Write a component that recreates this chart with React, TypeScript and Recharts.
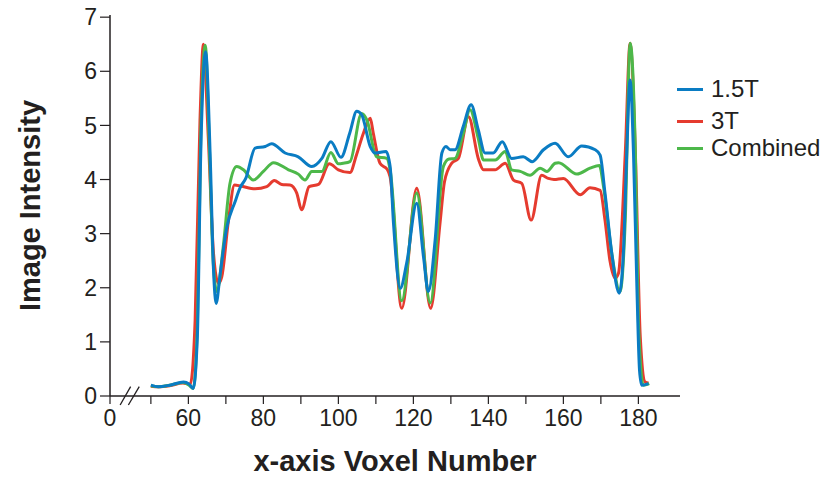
import React from "react";
import { LineChart, Line, XAxis, YAxis, ReferenceLine, Label } from "recharts";

// [voxel, intensity]
const data15T: [number, number][] = [
  [50, 0.2], [52, 0.17], [55, 0.2], [58.7, 0.26], [60.2, 0.22], [61.3, 0.14], [62.4, 1.1],
  [63.3, 4.48], [64.6, 6.36], [65.8, 4.48], [66.7, 2.33], [67.4, 1.71], [68.5, 2.27],
  [70.2, 3.1], [72.5, 3.6], [73.8, 3.85], [75.3, 4.02], [77.8, 4.58], [80.5, 4.61],
  [82.2, 4.66], [85.8, 4.49], [89.3, 4.42], [92.9, 4.24], [95.6, 4.39], [98, 4.7],
  [100.7, 4.41], [103, 4.85], [104.9, 5.26], [106.2, 5.2], [108.5, 4.61], [109.8, 4.49],
  [112.7, 4.52], [113.8, 4.24], [114.7, 3.19], [116.5, 1.99], [118.2, 2.45], [120.9, 3.56],
  [122.7, 2.57], [124, 1.93], [125.8, 2.88], [127.6, 4.49], [128.7, 4.61], [129.8, 4.55],
  [131.1, 4.55], [133.3, 4.98], [135.4, 5.38], [137.3, 4.92], [139.1, 4.49], [141.3, 4.49],
  [143.7, 4.7], [146.2, 4.39], [149.3, 4.42], [151.7, 4.33], [154.7, 4.55], [157.8, 4.67],
  [161.3, 4.42], [164.9, 4.62], [168.5, 4.55], [169.8, 4.45], [171.1, 3.75], [172.9, 2.64],
  [174.9, 1.9], [176, 2.64], [176.9, 4.48], [177.8, 5.84], [178.7, 4.48], [179.6, 2.02],
  [180.3, 0.48], [180.9, 0.2], [182.7, 0.23],
];

const data3T: [number, number][] = [
  [50, 0.18], [52, 0.17], [55, 0.19], [58.5, 0.24], [60.5, 0.22], [61.8, 1.4], [63.1, 5.1],
  [64, 6.5], [65.3, 4.79], [66.7, 2.64], [68, 2.08], [68.9, 2.2], [70.7, 3.25], [72.3, 3.9],
  [74, 3.88], [77.8, 3.83], [80.9, 3.87], [82.9, 3.98], [84.9, 3.91], [87.1, 3.9],
  [88.9, 3.75], [90.2, 3.44], [92.2, 3.87], [94.7, 3.91], [97.6, 4.29], [100, 4.18],
  [103.1, 4.13], [104.8, 4.45], [106.7, 4.86], [108.5, 5.13], [109.3, 4.86], [111.1, 4.3],
  [113.1, 4.18], [113.8, 4.05], [116.9, 1.62], [120.9, 3.84], [124.6, 1.62], [127.1, 3.19],
  [128.3, 3.96], [130.2, 4.3], [132, 4.39], [134.7, 5.16], [137.3, 4.39], [138.7, 4.18],
  [141.8, 4.18], [144.5, 4.3], [146.7, 3.99], [148.9, 3.93], [151.4, 3.25], [154.2, 4.08],
  [156, 4.02], [157.5, 4.0], [160, 4.02], [164.5, 3.72], [167.1, 3.85], [169.8, 3.8],
  [171.1, 3.25], [172.4, 2.51], [173.8, 2.18], [174.7, 2.27], [176.5, 4.48], [177.8, 6.52],
  [179.2, 4.49], [180.5, 1.1], [181.8, 0.26], [182.7, 0.24],
];

const dataCombined: [number, number][] = [
  [50, 0.19], [52, 0.17], [55, 0.2], [58.7, 0.25], [60.2, 0.2], [61.3, 0.14], [62.4, 1.3],
  [63.3, 4.8], [64.5, 6.48], [65.6, 4.6], [66.6, 2.5], [67.6, 1.93], [69.3, 2.76],
  [71.1, 3.93], [72.9, 4.24], [74.7, 4.18], [77.3, 3.99], [80, 4.15], [82.7, 4.31],
  [86.7, 4.18], [89.3, 4.1], [91.1, 3.99], [92.9, 4.15], [95.6, 4.15], [98, 4.5],
  [100, 4.29], [101.3, 4.3], [103.1, 4.33], [106.2, 5.22], [107.6, 5.1], [110.2, 4.42],
  [112.9, 4.39], [113.8, 4.18], [116.9, 1.76], [120.9, 3.75], [124.5, 1.72], [128, 4.24],
  [129.5, 4.38], [131.1, 4.39], [133.3, 4.85], [135.1, 5.29], [137.3, 4.76], [138.7, 4.36],
  [141.8, 4.36], [144.5, 4.52], [146.2, 4.18], [148.5, 4.15], [151.1, 4.08], [153.8, 4.21],
  [155.6, 4.15], [157.8, 4.3], [158.7, 4.31], [163.6, 4.1], [167.1, 4.21], [169.6, 4.26],
  [170.7, 3.87], [172.9, 2.64], [175.1, 1.93], [176.5, 3.25], [177.8, 6.52], [179.2, 4.49],
  [180, 1.4], [181.3, 0.2], [182.9, 0.23],
];

// x axis is broken: the "0" tick sits where ~39 would be
const xTicks = [39.1, 50, 60, 70, 80, 90, 100, 110, 120, 130, 140, 150, 160, 170, 180];
const yTicks = [0, 1, 2, 3, 4, 5, 6, 7];

const series = [
  { name: "1.5T", color: "#0A7CC3", data: data15T },
  { name: "3T", color: "#E53B2F", data: data3T },
  { name: "Combined", color: "#4DB84A", data: dataCombined },
];

const INK = "#231F20";
const FONT = "'Liberation Sans', Arial, sans-serif";

const toPoints = (d: [number, number][]) => d.map(([x, y]) => ({ x, y }));

const xLabel = (v: number) => {
  if (v < 45) return "0";
  return Math.round(v) % 20 === 0 ? String(v) : "";
};

export default function App() {
  // drawn red, green, then blue on top
  const drawOrder = [series[1], series[2], series[0]];
  const legendTops = [76, 108, 135];

  return (
    <div style={{ position: "relative", width: 821, height: 478, fontFamily: FONT }}>
      <style>{"body{margin:0}"}</style>
      <LineChart
        width={821}
        height={478}
        margin={{ top: 15, right: 141, left: 50, bottom: 52 }}
      >
        <XAxis
          type="number"
          dataKey="x"
          domain={[39.1, 191.1]}
          ticks={xTicks}
          interval={0}
          allowDataOverflow
          tickFormatter={xLabel}
          tickSize={8}
          tickMargin={6}
          height={30}
          axisLine={{ stroke: INK, strokeWidth: 1.5 }}
          tickLine={{ stroke: INK, strokeWidth: 1.2 }}
          tick={{ fontSize: 23, fill: INK, fontFamily: FONT }}
        >
          <Label
            content={({ viewBox }: any) => (
              <text
                x={viewBox.x + viewBox.width / 2}
                y={viewBox.y + viewBox.height + 45}
                textAnchor="middle"
                fontSize={29}
                fontWeight="bold"
                fill={INK}
                fontFamily={FONT}
              >
                x-axis Voxel Number
              </text>
            )}
          />
        </XAxis>
        <YAxis
          type="number"
          domain={[0, 7.04]}
          ticks={yTicks}
          interval={0}
          allowDataOverflow
          tickSize={10}
          tickMargin={3}
          width={60}
          axisLine={{ stroke: INK, strokeWidth: 1.5 }}
          tickLine={{ stroke: INK, strokeWidth: 1.2 }}
          tick={{ fontSize: 23, fill: INK, fontFamily: FONT }}
        >
          <Label
            content={({ viewBox }: any) => {
              const cx = viewBox.x - 20;
              const cy = viewBox.y + viewBox.height / 2;
              return (
                <text
                  x={cx}
                  y={cy}
                  transform={`rotate(-90 ${cx} ${cy})`}
                  textAnchor="middle"
                  dominantBaseline="central"
                  fontSize={29}
                  fontWeight="bold"
                  fill={INK}
                  fontFamily={FONT}
                >
                  Image Intensity
                </text>
              );
            }}
          />
        </YAxis>
        <ReferenceLine
          segment={[{ x: 41.8, y: -0.166 }, { x: 44.6, y: 0.172 }]}
          stroke={INK}
          strokeWidth={1.3}
          ifOverflow="visible"
        />
        <ReferenceLine
          segment={[{ x: 44.0, y: -0.166 }, { x: 46.9, y: 0.172 }]}
          stroke={INK}
          strokeWidth={1.3}
          ifOverflow="visible"
        />
        {drawOrder.map((s) => (
          <Line
            key={s.name}
            data={toPoints(s.data)}
            dataKey="y"
            name={s.name}
            type="monotone"
            stroke={s.color}
            strokeWidth={3}
            dot={false}
            activeDot={false}
            isAnimationActive={false}
          />
        ))}
      </LineChart>
      {series.map((s, i) => (
        <div
          key={s.name}
          style={{
            position: "absolute",
            left: 677,
            top: legendTops[i],
            display: "flex",
            alignItems: "center",
            height: 26,
            fontSize: 24,
            color: INK,
            lineHeight: "26px",
          }}
        >
          <div style={{ width: 26, height: 3, background: s.color, marginRight: 8 }} />
          <span>{s.name}</span>
        </div>
      ))}
    </div>
  );
}
